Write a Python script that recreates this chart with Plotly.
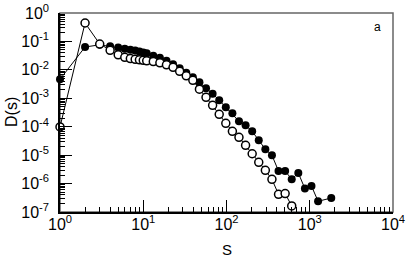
import plotly.graph_objects as go

s_vals = [1, 2, 3, 4, 5, 6, 7, 8, 9, 10, 11, 13.2, 15.84, 19.01, 22.81, 27.37,
          32.85, 39.42, 47.3, 56.76, 68.11, 81.74, 98.08, 117.7, 141.2, 169.5,
          203.4, 244.0, 292.9, 351.4, 421.7, 506.1, 607.3, 728.7, 874.5, 1049,
          1259, 1813]
d_filled = [4.66e-3, 0.0637, 0.076, 0.0674, 0.0607, 0.0551, 0.0508, 0.0476,
            0.0439, 0.0405, 0.0383, 0.0313, 0.0266, 0.0208, 0.0157, 0.01135,
            0.00788, 0.00547, 0.00365, 0.00225, 0.00144, 8.5e-4, 4.82e-4,
            2.96e-4, 1.55e-4, 1.12e-4, 6.9e-5, 3.33e-5, 1.61e-5, 9.9e-6,
            2.77e-6, 2.77e-6, 1.42e-6, 2.36e-6, 6.66e-7, 8.2e-7, 2.38e-7, 3.11e-7]

s_open = [1, 2, 3, 4, 5, 6, 7, 8, 9, 10, 11, 13.2, 15.84, 19.01, 22.81, 27.37,
          32.85, 39.42, 47.3, 56.76, 68.11, 81.74, 98.08, 117.7, 141.2, 169.5,
          203.4, 244.0, 292.9, 351.4, 421.7, 506.1, 607.3]
d_open = [9.8e-5, 0.445, 0.0812, 0.0488, 0.0339, 0.0277, 0.0249, 0.0235,
          0.0226, 0.0217, 0.0208, 0.0195, 0.0177, 0.0151, 0.0123, 0.00889,
          0.00618, 0.0043, 0.0021, 0.00108, 5.66e-4, 2.73e-4, 1.32e-4, 6.9e-5,
          4.25e-5, 2.22e-5, 1.12e-5, 5.61e-6, 2.93e-6, 1.41e-6, 4.19e-7,
          4.44e-7, 1.63e-7]

x_tick_vals = [1, 10, 100, 1000, 10000]
x_tick_text = ["10<sup>0</sup>", "10<sup>1</sup>", "10<sup>2</sup>", "10<sup>3</sup>", "10<sup>4</sup>"]
y_tick_vals = [1, 1e-1, 1e-2, 1e-3, 1e-4, 1e-5, 1e-6, 1e-7]
y_tick_text = ["10<sup>0</sup>", "10<sup>-1</sup>", "10<sup>-2</sup>", "10<sup>-3</sup>",
               "10<sup>-4</sup>", "10<sup>-5</sup>", "10<sup>-6</sup>", "10<sup>-7</sup>"]

FONT = "Liberation Sans, Arial, sans-serif"

fig = go.Figure()
fig.add_trace(go.Scatter(
    x=s_vals, y=d_filled, mode="lines+markers",
    line=dict(color="black", width=1),
    marker=dict(symbol="circle", size=8, color="black"),
    cliponaxis=False, showlegend=False))
fig.add_trace(go.Scatter(
    x=s_open, y=d_open, mode="lines+markers",
    line=dict(color="black", width=1),
    marker=dict(symbol="circle", size=8, color="white",
                line=dict(color="black", width=1.5)),
    cliponaxis=False, showlegend=False))

axis_common = dict(
    type="log", showgrid=False, zeroline=False, showline=True, automargin=False,
    linecolor="black", linewidth=1.5, ticks="inside", ticklen=12,
    tickwidth=1, tickcolor="black",
    tickfont=dict(family=FONT, size=16, color="black"),
    minor=dict(ticks="inside", ticklen=5, tickwidth=1, tickcolor="black",
               dtick="D1", showgrid=False),
)

fig.update_xaxes(range=[0, 4], tickvals=x_tick_vals, ticktext=x_tick_text,
                 ticklabelstandoff=-3, **axis_common)
fig.update_yaxes(range=[-7, 0], tickvals=y_tick_vals, ticktext=y_tick_text,
                 ticklabelstandoff=6, **axis_common)

fig.add_shape(type="rect", xref="paper", yref="paper", x0=0, y0=0, x1=1, y1=1,
              line=dict(color="#666666", width=1.5), layer="below")

plot_w = 407 - 60 - 14
plot_h = 256 - 13 - 44


def px_x(px):
    return (px - 60) / plot_w


def px_y(py):
    return (256 - 44 - py) / plot_h


fig.add_annotation(x=px_x(377), y=px_y(27), xref="paper", yref="paper", text="a",
                   xanchor="center", yanchor="middle",
                   showarrow=False, font=dict(family=FONT, size=12, color="black"))
fig.add_annotation(x=px_x(226.5), y=px_y(249), xref="paper", yref="paper", text="S",
                   xanchor="center", yanchor="middle",
                   showarrow=False, font=dict(family=FONT, size=15, color="black"))
fig.add_annotation(x=px_x(11), y=px_y(112), xref="paper", yref="paper", text="D(s)",
                   xanchor="center", yanchor="middle",
                   showarrow=False, textangle=-90,
                   font=dict(family=FONT, size=16, color="black"))

fig.update_layout(
    width=407, height=256,
    margin=dict(l=60, r=14, t=13, b=44),
    plot_bgcolor="white", paper_bgcolor="white",
    font=dict(family=FONT, color="black"),
)

fig.write_html(
    "out.html",
    config={"displayModeBar": False},
    post_script="document.body.style.margin='0';document.body.style.overflow='hidden';",
)
